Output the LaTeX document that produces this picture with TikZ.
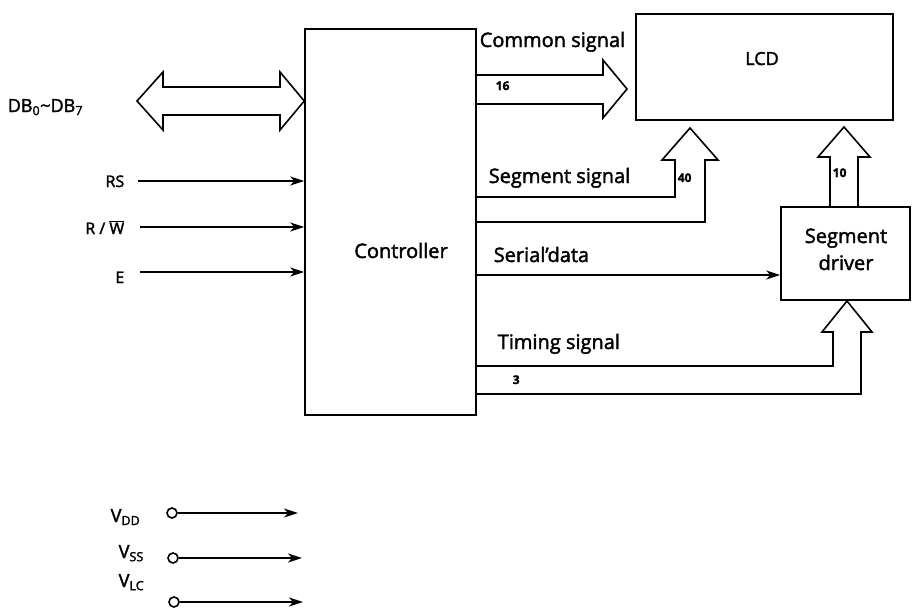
\documentclass[tikz,border=0pt]{standalone}
\usepackage{fontspec}
\setmainfont{Open Sans}[FakeBold=2]
\usetikzlibrary{arrows.meta}
\begin{document}
\begin{tikzpicture}[x=1pt,y=-1pt,line width=1.5pt,
  box/.style={draw,line width=1.5pt,inner sep=0pt},
  big/.style={font=\fontsize{20}{27}\selectfont,inner sep=0pt},
  mid/.style={font=\fontsize{18}{21}\selectfont,inner sep=0pt},
  sml/.style={font=\fontsize{16}{18}\selectfont,inner sep=0pt},
  num/.style={font=\fontsize{12}{14}\selectfont\bfseries,inner sep=0pt},
  sig/.style={-{Stealth[length=14pt,width=9pt,inset=4pt]},line width=1.6pt},
  fat/.style={line width=1.6pt,line join=miter},
  pin/.style={circle,draw,line width=1.6pt,minimum size=10pt,inner sep=0pt}
]
\useasboundingbox (0,0) rectangle (912,613);

% blocks
\node[box,minimum width=171pt,minimum height=386pt] (ctrl) at (390.5,222) {};
\node[box,minimum width=257pt,minimum height=106pt] (lcd) at (764.5,67) {};
\node[box,minimum width=129pt,minimum height=93pt] (drv) at (845.5,253.5) {};

\node[big,anchor=base] (ctrltxt) at (401,258) {Controller};
\node[mid,anchor=base] (lcdtxt) at (762,65) {LCD};
\node[big,anchor=base,align=center] (drvtxt) at (846,270) {Segment\\driver};

% data bus
\node[mid,anchor=base west] (dblbl) at (7,112) {DB\textsubscript{0}\textasciitilde DB\textsubscript{7}};
\draw[fat] (137,101) -- (163,72) -- (163,87) -- (280,87) -- (280,72) -- (ctrl.west |- 0,101)
  -- (280,130) -- (280,115) -- (163,115) -- (163,130) -- cycle;

% control inputs
\node[sml,anchor=base east] (rslbl) at (125,187) {RS};
\node[sml,anchor=base east] (rwlbl) at (125,234) {R / $\overline{\hbox{W}}$};
\node[sml,anchor=base east] (elbl) at (125,283) {E};
\coordinate (rsin) at (138,181);
\coordinate (rwin) at (140,227);
\coordinate (ein) at (140,272);
\draw[sig] (rsin) -- (rsin -| ctrl.west);
\draw[sig] (rwin) -- (rwin -| ctrl.west);
\draw[sig] (ein) -- (ein -| ctrl.west);

% common signal
\node[big,anchor=base west] (comlbl) at (479,47) {Common signal};
\node[num,anchor=base west] (n16) at (495,90) {16};
\draw[fat] (476,75) -- (603,75) -- (603,60) -- (627,89) -- (603,118) -- (603,104) -- (476,104);

% segment signal
\node[big,anchor=base west] (seglbl) at (488,183) {Segment signal};
\node[num,anchor=base west] (n40) at (677,182) {40};
\draw[fat] (476,197) -- (675,197) -- (675,160) -- (662,160) -- (690,128) -- (718,160) -- (705,160) -- (705,222) -- (476,222);

% driver to LCD
\node[num,anchor=base west] (n10) at (832,177) {10};
\draw[fat] (830,207) -- (830,157) -- (818,157) -- (844,127) -- (870,157) -- (858,157) -- (858,207);

% serial data
\node[big,anchor=base west] (serlbl) at (493,262) {Serial'data};
\coordinate (serin) at (476,275);
\draw[sig] (serin) -- (serin -| drv.west);

% timing signal
\node[big,anchor=base west] (timlbl) at (497,349) {Timing signal};
\node[num,anchor=base west] (n3) at (512,384) {3};
\draw[fat] (476,366) -- (833,366) -- (833,332) -- (822,332) -- (847,301) -- (872,332) -- (861,332) -- (861,394) -- (476,394);

% power supply pins
\node[mid,anchor=base west] (vdd) at (110,522) {V\textsubscript{DD}};
\node[mid,anchor=base west] (vss) at (118,558) {V\textsubscript{SS}};
\node[mid,anchor=base west] (vlc) at (118,587) {V\textsubscript{LC}};
\node[pin] (pdd) at (172,513) {};
\node[pin] (pss) at (173,558) {};
\node[pin] (plc) at (174,602) {};
\coordinate (edd) at (298,513);
\coordinate (ess) at (302,558);
\coordinate (elc) at (303,602);
\draw[sig] (pdd) -- (edd);
\draw[sig] (pss) -- (ess);
\draw[sig] (plc) -- (elc);
\end{tikzpicture}
\end{document}
